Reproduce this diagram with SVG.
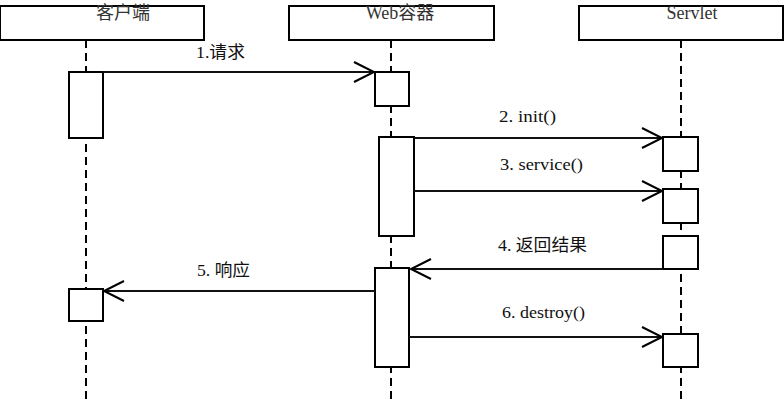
<svg xmlns="http://www.w3.org/2000/svg" width="784" height="401" viewBox="0 0 784 401">
<defs>
<marker id="open" markerUnits="userSpaceOnUse" markerWidth="24" markerHeight="24" refX="20" refY="10" orient="auto" overflow="visible">
<path d="M0,0 L20,10 L0,20" fill="none" stroke="#000" stroke-width="2"/>
</marker>
<style>
.box{fill:#fff;stroke:#000;stroke-width:2}
.life{stroke:#000;stroke-width:2;stroke-dasharray:8 5;fill:none}
.msg{stroke:#111;stroke-width:2;fill:none;marker-end:url(#open)}
.hdr{font-family:'Liberation Serif','Noto Sans CJK SC',serif;font-size:18px;fill:#333;text-anchor:middle}
.lbl{font-family:'Liberation Serif','Noto Sans CJK SC',serif;font-size:17px;fill:#111}
</style>
</defs>
<rect width="784" height="401" fill="#fff"/>
<g id="lifelines">
<line class="life" x1="86" y1="40" x2="86" y2="401"/>
<line class="life" x1="391" y1="40" x2="391" y2="401"/>
<line class="life" x1="681" y1="40" x2="681" y2="401"/>
</g>
<g id="client">
<rect class="box" x="0" y="6" width="204" height="34"/>
<text class="hdr" x="123" y="19">客户端</text>
<rect class="box" x="69" y="72" width="34" height="66"/>
<rect class="box" x="69" y="289" width="34" height="32"/>
</g>
<g id="web">
<rect class="box" x="289" y="6" width="205" height="34"/>
<text class="hdr" x="400" y="19">Web容器</text>
<rect class="box" x="375" y="72" width="34" height="34"/>
<rect class="box" x="379" y="137" width="35" height="99"/>
<rect class="box" x="375" y="268" width="34" height="99"/>
</g>
<g id="servlet">
<rect class="box" x="579" y="6" width="204" height="34"/>
<text class="hdr" x="692" y="19">Servlet</text>
<rect class="box" x="663" y="137" width="35" height="34"/>
<rect class="box" x="663" y="189" width="35" height="34"/>
<rect class="box" x="663" y="236" width="35" height="33"/>
<rect class="box" x="663" y="334" width="35" height="33"/>
</g>
<g id="connectors">
<line class="msg" x1="103" y1="72" x2="374" y2="72"/>
<text class="lbl" x="196" y="58" textLength="49" lengthAdjust="spacingAndGlyphs">1.请求</text>
<line class="msg" x1="414" y1="138" x2="662" y2="138"/>
<text class="lbl" x="499" y="122" textLength="57" lengthAdjust="spacingAndGlyphs">2. init()</text>
<line class="msg" x1="414" y1="191" x2="662" y2="191"/>
<text class="lbl" x="500" y="170" textLength="83" lengthAdjust="spacingAndGlyphs">3. service()</text>
<line class="msg" x1="663" y1="269" x2="411" y2="269"/>
<text class="lbl" x="498" y="251" textLength="89" lengthAdjust="spacingAndGlyphs">4. 返回结果</text>
<line class="msg" x1="375" y1="291" x2="104" y2="291"/>
<text class="lbl" x="197" y="276" textLength="53" lengthAdjust="spacingAndGlyphs">5. 响应</text>
<line class="msg" x1="409" y1="337" x2="662" y2="337"/>
<text class="lbl" x="502" y="318" textLength="83" lengthAdjust="spacingAndGlyphs">6. destroy()</text>
</g>
</svg>
